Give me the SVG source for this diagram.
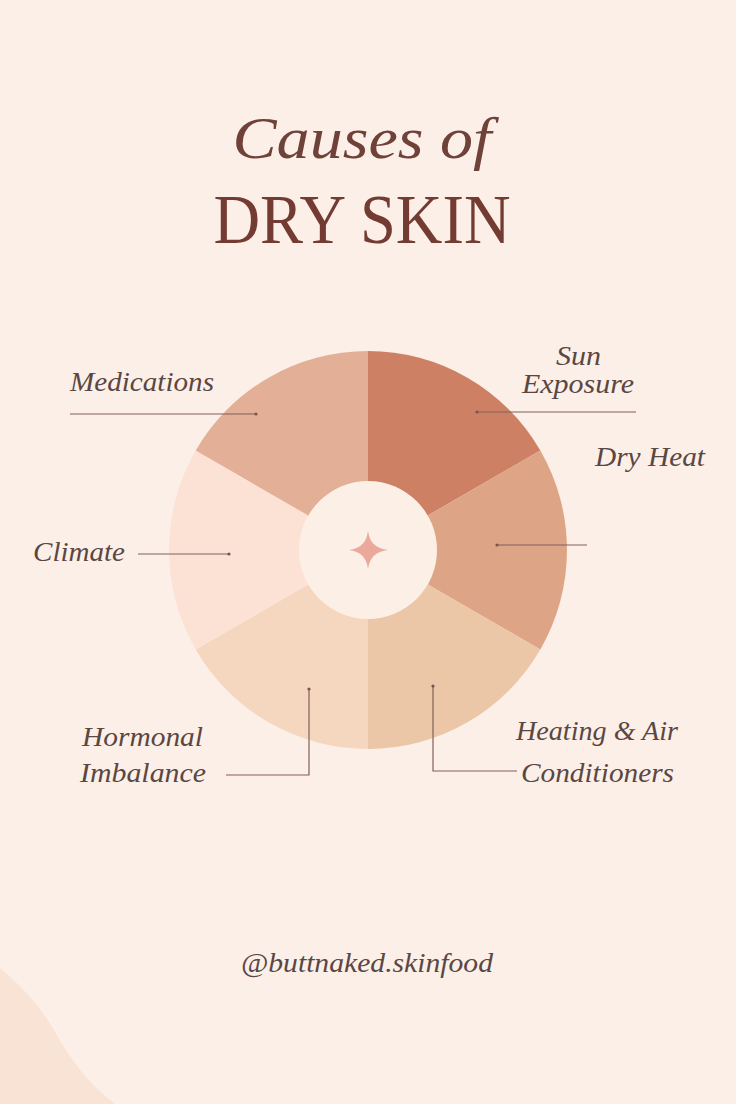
<svg xmlns="http://www.w3.org/2000/svg" width="736" height="1104" viewBox="0 0 736 1104">
  <style>
    .title { font-family: "Liberation Serif", "DejaVu Serif", serif; fill: #733B31; }
    .lbl { font-family: "Liberation Serif", "DejaVu Serif", serif; font-style: italic; font-size: 27px; fill: #5A4743; }
    .conn { fill: none; stroke: #80605A; stroke-width: 1.2; }
    .dot { fill: #7A5550; }
  </style>
  <rect x="0" y="0" width="736" height="1104" fill="#FCEFE7"/>
  <path d="M0,968 C20,985 40,1005 55,1032 C70,1060 90,1085 115,1104 L0,1104 Z" fill="#F8E3D5"/>

  <g id="title">
    <text class="title" x="362" y="158" font-size="60" font-style="italic" text-anchor="middle" textLength="259" lengthAdjust="spacingAndGlyphs" style="fill:#6E4139">Causes of</text>
    <text class="title" x="362" y="243" font-size="70" text-anchor="middle" textLength="297" lengthAdjust="spacingAndGlyphs">DRY SKIN</text>
  </g>

  <g id="wheel">
    <path id="seg-sun" d="M368,550 L368,351 A199,199 0 0,1 540.3,450.5 Z" fill="#CE8064"/>
    <path id="seg-dryheat" d="M368,550 L540.3,450.5 A199,199 0 0,1 540.3,649.5 Z" fill="#DDA486"/>
    <path id="seg-heating" d="M368,550 L540.3,649.5 A199,199 0 0,1 368,749 Z" fill="#EBC7A8"/>
    <path id="seg-hormonal" d="M368,550 L368,749 A199,199 0 0,1 195.7,649.5 Z" fill="#F5D7BF"/>
    <path id="seg-climate" d="M368,550 L195.7,649.5 A199,199 0 0,1 195.7,450.5 Z" fill="#FCE2D4"/>
    <path id="seg-medications" d="M368,550 L195.7,450.5 A199,199 0 0,1 368,351 Z" fill="#E3AF97"/>
    <circle cx="368" cy="550" r="69" fill="#FCEFE6"/>
    <path d="M368,531 Q370,548 388,550 Q370,552 368,569 Q366,552 349,550 Q366,548 368,531 Z" fill="#EAA99A"/>
  </g>

  <g id="connectors">
    <line class="conn" x1="70" y1="414" x2="256" y2="414"/>
    <circle class="dot" cx="256" cy="414" r="1.6"/>
    <line class="conn" x1="138" y1="554" x2="229" y2="554"/>
    <circle class="dot" cx="229" cy="554" r="1.6"/>
    <line class="conn" x1="477" y1="412" x2="636" y2="412"/>
    <circle class="dot" cx="477" cy="412" r="1.6"/>
    <line class="conn" x1="497" y1="545" x2="587" y2="545"/>
    <circle class="dot" cx="497" cy="545" r="1.6"/>
    <polyline class="conn" points="309,689 309,775 226,775"/>
    <circle class="dot" cx="309" cy="689" r="1.6"/>
    <polyline class="conn" points="433,686 433,771 517,771"/>
    <circle class="dot" cx="433" cy="686" r="1.6"/>
  </g>

  <g id="node-medications">
    <text class="lbl" x="70" y="391" textLength="144" lengthAdjust="spacingAndGlyphs">Medications</text>
  </g>
  <g id="node-sun">
    <text class="lbl" x="556" y="365" textLength="45" lengthAdjust="spacingAndGlyphs">Sun</text>
    <text class="lbl" x="522" y="393" textLength="112" lengthAdjust="spacingAndGlyphs">Exposure</text>
  </g>
  <g id="node-dryheat">
    <text class="lbl" x="595" y="466" textLength="110" lengthAdjust="spacingAndGlyphs">Dry Heat</text>
  </g>
  <g id="node-climate">
    <text class="lbl" x="33" y="561" textLength="92" lengthAdjust="spacingAndGlyphs">Climate</text>
  </g>
  <g id="node-hormonal">
    <text class="lbl" x="82" y="746" textLength="121" lengthAdjust="spacingAndGlyphs">Hormonal</text>
    <text class="lbl" x="80" y="782" textLength="126" lengthAdjust="spacingAndGlyphs">Imbalance</text>
  </g>
  <g id="node-heating">
    <text class="lbl" x="516" y="740" textLength="162" lengthAdjust="spacingAndGlyphs">Heating &amp; Air</text>
    <text class="lbl" x="521" y="782" textLength="153" lengthAdjust="spacingAndGlyphs">Conditioners</text>
  </g>

  <g id="footer">
    <text class="lbl" x="241" y="972" textLength="252" lengthAdjust="spacingAndGlyphs">@buttnaked.skinfood</text>
  </g>
</svg>
